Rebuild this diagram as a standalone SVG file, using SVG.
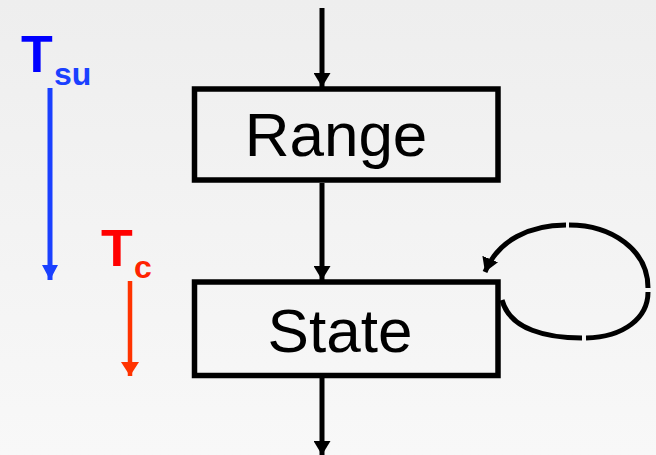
<svg xmlns="http://www.w3.org/2000/svg" width="656" height="455" viewBox="0 0 656 455">
  <defs>
    <linearGradient id="bg" x1="0" y1="0" x2="0" y2="1">
      <stop offset="0" stop-color="#eeeeee"/>
      <stop offset="1" stop-color="#f8f8f8"/>
    </linearGradient>
    <marker id="headK" markerUnits="userSpaceOnUse" markerWidth="18" markerHeight="17" refX="14" refY="8.5" orient="auto">
      <path d="M0,0 L14,8.5 L0,17 Z" fill="#000"/>
    </marker>
    <marker id="headB" markerUnits="userSpaceOnUse" markerWidth="18" markerHeight="16" refX="15" refY="8" orient="auto">
      <path d="M0,0 L15,8 L0,16 Z" fill="#1a40ff"/>
    </marker>
    <marker id="headR" markerUnits="userSpaceOnUse" markerWidth="18" markerHeight="18" refX="14" refY="9" orient="auto">
      <path d="M0,0 L14,9 L0,18 Z" fill="#ff3300"/>
    </marker>
  </defs>
  <style>
    .box { fill: none; stroke: #000; stroke-width: 5.5; }
    .lbl { font-family: "Liberation Sans", Arial, sans-serif; font-size: 62px; fill: #000; }
    .wire { fill: none; stroke: #000; stroke-width: 5; }
    .sym { font-family: "Liberation Sans", Arial, sans-serif; font-weight: bold; }
  </style>

  <rect width="656" height="455" fill="url(#bg)"/>

  <!-- timing annotations -->
  <g id="tsu">
    <text class="sym" x="21" y="72" font-size="52" fill="#0000ff">T</text>
    <text class="sym" x="54" y="85" font-size="32" fill="#1a40ff">su</text>
    <line x1="50" y1="88" x2="50" y2="280" stroke="#1a40ff" stroke-width="5" marker-end="url(#headB)"/>
  </g>
  <g id="tc">
    <text class="sym" x="101" y="266" font-size="52" fill="#ff0000">T</text>
    <text class="sym" x="134" y="278" font-size="32" fill="#ff2200">c</text>
    <line x1="130" y1="281" x2="130" y2="376" stroke="#ff3300" stroke-width="4.5" marker-end="url(#headR)"/>
  </g>

  <!-- blocks -->
  <g id="range">
    <rect class="box" x="194.5" y="89" width="303.5" height="91"/>
    <text class="lbl" x="336" y="156" text-anchor="middle">Range</text>
  </g>
  <g id="state">
    <rect class="box" x="194.5" y="282" width="303.5" height="93.5"/>
    <text class="lbl" x="340" y="352" text-anchor="middle">State</text>
  </g>

  <!-- connectors -->
  <g id="connectors">
    <line class="wire" x1="322" y1="8" x2="322" y2="87" marker-end="url(#headK)"/>
    <line class="wire" x1="322" y1="183" x2="322" y2="280" marker-end="url(#headK)"/>
    <line class="wire" x1="322" y1="378" x2="322" y2="455" marker-end="url(#headK)"/>
    <!-- feedback loop on State -->
    <path class="wire" d="M502,300 C510,330 548,338 582,338"/>
    <path class="wire" d="M586,338 C624,337 648,318 648,292"/>
    <path class="wire" d="M648,288 C648,250 612,225 569,225"/>
    <path class="wire" d="M566,225 C530,225 498,240 485,272" marker-end="url(#headK)"/>
  </g>
</svg>
